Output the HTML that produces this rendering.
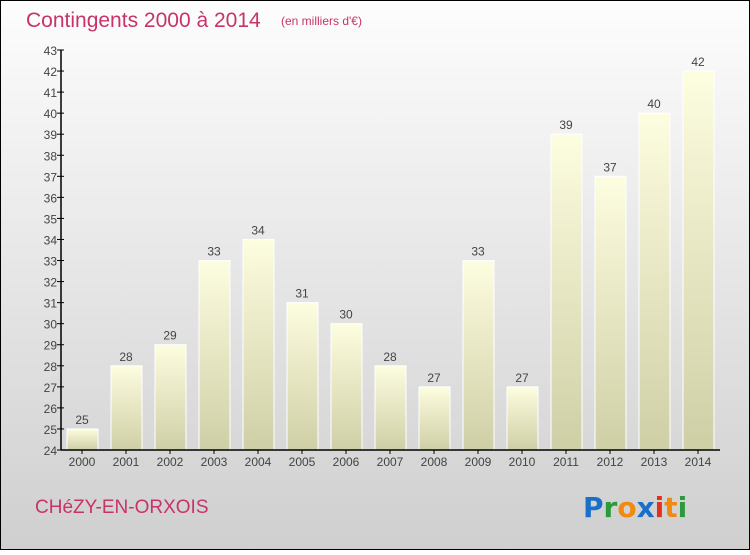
<!DOCTYPE html>
<html><head><meta charset="utf-8"><style>
body{margin:0;width:750px;height:550px;overflow:hidden;font-family:"Liberation Sans",sans-serif}
</style></head><body>
<svg width="750" height="550">
<defs>
<linearGradient id="bg" x1="0" y1="0" x2="0" y2="1"><stop offset="0" stop-color="#fdfdfd"/><stop offset="1" stop-color="#cfcfcf"/></linearGradient>
<linearGradient id="bar" x1="0" y1="0" x2="0" y2="1"><stop offset="0" stop-color="#fdfde0"/><stop offset="1" stop-color="#cfcfa6"/></linearGradient>
</defs>
<rect x="0.5" y="0.5" width="749" height="549" fill="url(#bg)" stroke="#000"/>
<text x="26" y="27" font-size="21" fill="#c8336a">Contingents 2000 à 2014</text>
<text x="281" y="25" font-size="12" fill="#c8336a">(en milliers d'€)</text>
<text x="35" y="513" font-size="19" fill="#c8336a">CHéZY-EN-ORXOIS</text>
<g font-size="28" font-weight="bold" font-family="DejaVu Sans, sans-serif">
<text x="583" y="517"><tspan fill="#1a6fc8">P</tspan><tspan fill="#2a9a3a">r</tspan><tspan fill="#f08a10">o</tspan><tspan fill="#1a6fc8">x</tspan><tspan fill="#e03020">i</tspan><tspan fill="#f08a10">t</tspan><tspan fill="#2a9a3a">i</tspan></text>
</g>
<g id="plot"></g>
</svg>
<script>
const years=["2000","2001","2002","2003","2004","2005","2006","2007","2008","2009","2010","2011","2012","2013","2014"];
const values=[25,28,29,33,34,31,30,28,27,33,27,39,37,40,42];
const yTicks=[24,25,26,27,28,29,30,31,32,33,34,35,36,37,38,39,40,41,42,43];
const NS="http://www.w3.org/2000/svg";
const plotG=document.getElementById('plot');
const x0=61,y0=450,yMin=24,yMax=43,yTop=50,step=44;
const yS=v=>y0-(v-yMin)*(y0-yTop)/(yMax-yMin);
const xc=i=>x0+21+i*step;
function mk(t,a){const e=document.createElementNS(NS,t);for(const k in a)e.setAttribute(k,a[k]);plotG.appendChild(e);return e;}
values.forEach((v,i)=>{
 const r=mk('rect',{x:xc(i)-15,y:yS(v),width:31,height:y0-yS(v),fill:'url(#bar)',stroke:'#fff','stroke-width':1});
 
 
 const t=mk('text',{x:xc(i),y:yS(v)-5,'text-anchor':'middle','font-size':12,fill:'#444'});
 t.textContent=v;
 
 
 const l=mk('text',{x:xc(i),y:y0+16,'text-anchor':'middle','font-size':12,fill:'#444'});
 l.textContent=years[i];
 
 
 const tk=mk('line',{x1:xc(i),x2:xc(i),y1:y0,y2:y0+4,stroke:'#000'});
 
 
});
yTicks.forEach(v=>{
 const tk=mk('line',{x1:x0-4,x2:x0+3,y1:yS(v),y2:yS(v),stroke:'#000'});
 
 
 const t=mk('text',{x:x0-4,y:yS(v)+5,'text-anchor':'end','font-size':12,fill:'#444'});
 t.textContent=v;
 
 
});
const ya=mk('line',{x1:x0,x2:x0,y1:yTop,y2:y0,stroke:'#000','stroke-width':1.5});


const xa=mk('line',{x1:x0,x2:720,y1:y0,y2:y0,stroke:'#000','stroke-width':1.5});


</script>
</body></html>
